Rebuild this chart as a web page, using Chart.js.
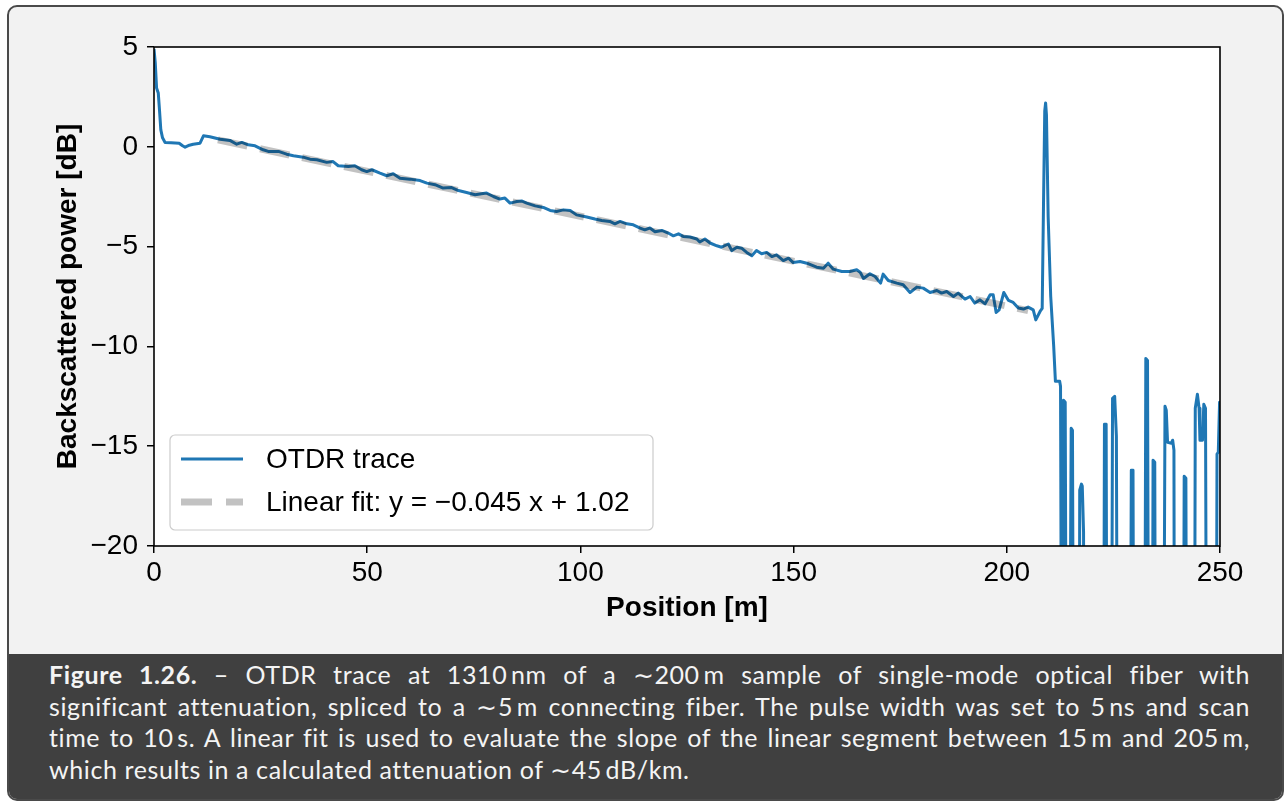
<!DOCTYPE html>
<html>
<head>
<meta charset="utf-8">
<title>OTDR trace</title>
<script src="https://cdn.jsdelivr.net/npm/chart.js@4.4.1/dist/chart.umd.min.js"></script>
<style>
  html, body { margin: 0; padding: 0; background: #fff; }
  body { width: 1287px; height: 803px; position: relative; overflow: hidden; }
  #frame {
    position: absolute; left: 7px; top: 5px; width: 1277px; height: 796px;
    box-sizing: border-box; border: 2px solid #4a4a4a; border-radius: 10px;
    background: #f2f2f2; overflow: hidden;
  }
  #caption {
    position: absolute; left: 0; right: 0; top: 647px; bottom: 0;
    background: #404040; color: #f4f4f4;
    font-family: Lato, "Noto Sans", sans-serif; font-size: 25px; line-height: 31.7px;
    letter-spacing: 0.6px;
    padding: 5px 32px 0 40px;
  }
  #caption .j { text-align: justify; text-align-last: justify; }
  #caption b { font-weight: 700; }
  #otdr { position: absolute; left: 0; top: 0; }
</style>
</head>
<body>
<div id="frame">
  <div id="caption">
    <div class="j"><b>Figure 1.26.</b> – OTDR trace at 1310&#8201;nm of a ∼200&#8201;m sample of single-mode optical fiber with</div>
    <div class="j">significant attenuation, spliced to a ∼5&#8201;m connecting fiber. The pulse width was set to 5&#8201;ns and scan</div>
    <div class="j">time to 10&#8201;s. A linear fit is used to evaluate the slope of the linear segment between 15&#8201;m and 205&#8201;m,</div>
    <div>which results in a calculated attenuation of ∼45&#8201;dB/km.</div>
  </div>
</div>
<canvas id="otdr" width="1287" height="654"></canvas>
<script>
// position along the fiber [m]
const traceX = [
  0, 0.3, 0.6, 1.0, 1.3, 1.6, 2.0, 2.6, 4.0, 5.9, 6.7, 7.3, 8.3, 9.2, 10.8, 11.6, 13.1,
  15.5, 17.8, 19.4, 20.6, 22.1, 23.7, 25.6, 26.8, 29.2, 31.1, 32.7, 35.0, 36.6, 38.2,
  40.5, 42.0, 43.2, 45.6, 47.1, 48.7, 49.9, 51.1, 53.0, 54.6, 56.1, 57.7, 60.0, 62.4,
  64.0, 65.9, 67.8, 69.8, 71.4, 73.3, 75.3, 76.8, 78.0, 79.6, 81.1, 82.3, 83.5, 85.1,
  86.2, 87.4, 89.4, 91.3, 92.9, 94.4, 96.0, 97.6, 99.1, 101.5, 103.4, 105.0, 106.9,
  108.1, 109.3, 110.9, 112.4, 114.0, 115.1, 116.3, 117.5, 119.1, 120.6, 121.8, 123.0,
  124.1, 125.7, 127.3, 128.0, 129.2, 130.4, 132.0, 133.1, 134.7, 135.5, 136.7, 137.8,
  139.0, 140.2, 141.3, 142.5, 143.7, 144.9, 146.0, 147.6, 148.8, 149.9, 151.5, 153.1,
  155.4, 157.0, 158.1, 159.3, 161.3, 163.2, 164.8, 165.6, 166.4, 167.9, 169.1, 170.4,
  171.0, 172.2, 174.2, 175.7, 177.3, 178.9, 180.4, 182.0, 183.6, 184.7, 185.9, 187.5,
  188.6, 190.2, 191.4, 192.5, 193.7, 194.9, 196.1, 196.8, 197.5, 198.2, 199.3, 200.4,
  201.5, 202.7, 203.9, 205.0, 206.2, 206.8, 207.8, 208.3,
  // reflection at the fiber end
  208.6, 208.9, 209.1, 209.3, 209.7, 210.3, 211.0, 211.4, 212.4, 212.6,
  // noise floor
  213.0, 213.3, 213.7, 214.1, 214.5, 215.1, 215.4, 215.8,
  216.9, 217.1, 217.5, 217.7, 218.0, 218.2,
  222.6, 222.9, 223.3, 223.6,
  224.4, 224.8, 225.3, 225.7, 226.1,
  228.8, 229.2, 229.6, 229.9,
  232.2, 232.6, 233.0, 233.4,
  234.0, 234.3, 234.7, 235.0,
  236.6, 237.1, 237.4, 237.7, 238.6, 238.9, 239.2, 239.4,
  241.3, 241.6, 242.0, 242.3,
  243.9, 244.2, 244.7, 245.1, 245.3, 245.9, 246.2, 246.6, 247.0,
  249.0, 249.3, 249.6, 249.9, 250.0
];

// backscattered power [dB]
const traceY = [
  4.9, 4.2, 2.95, 2.7, 1.8, 0.85, 0.45, 0.22, 0.2, 0.18, 0.05, -0.02, 0.08, 0.13, 0.18, 0.55, 0.5,
  0.38, 0.32, 0.13, 0.22, 0.1, 0.05, -0.15, -0.23, -0.23, -0.37, -0.45, -0.52, -0.62, -0.65,
  -0.78, -0.74, -0.95, -0.99, -0.95, -1.15, -1.24, -1.15, -1.32, -1.45, -1.35, -1.57, -1.62, -1.69,
  -1.82, -1.9, -2.07, -2.04, -2.19, -2.29, -2.4, -2.35, -2.32, -2.49, -2.62, -2.57, -2.82, -2.74,
  -2.71, -2.82, -2.96, -3.04, -3.19, -3.24, -3.16, -3.19, -3.41, -3.52, -3.62, -3.69, -3.74,
  -3.86, -3.74, -3.86, -3.91, -4.07, -4.16, -4.07, -4.26, -4.19, -4.32, -4.46, -4.36,
  -4.49, -4.52, -4.62, -4.77, -4.62, -4.82, -4.96, -5.03, -4.87, -5.2, -5.03, -5.08,
  -5.29, -5.46, -5.2, -5.36, -5.29, -5.5, -5.41, -5.7, -5.58, -5.8, -5.75, -5.83,
  -6.03, -6.08, -5.83, -6.13, -6.25, -6.25, -6.16, -6.28, -6.6, -6.36, -6.5, -6.83,
  -6.38, -6.7, -6.83, -6.91, -7.3, -7.03, -7.08, -7.3, -7.2, -7.33, -7.25, -7.5,
  -7.33, -7.63, -7.5, -7.83, -7.67, -7.87, -7.41, -7.41, -8.3, -8.17, -7.3, -7.7,
  -7.8, -8.08, -8.13, -8.03, -8.17, -8.67, -8.25, -8.1,
  -3.0, 1.8, 2.2, 1.6, -3.5, -7.5, -10.0, -11.75, -11.75, -12.0,
  -40, -12.7, -12.8, -40, -40, -14.1, -14.2, -40,
  -40, -17.2, -16.9, -17.0, -19.3, -40,
  -40, -13.9, -13.9, -40,
  -40, -12.6, -12.5, -14.5, -40,
  -40, -16.2, -16.2, -40,
  -40, -10.6, -10.7, -40,
  -40, -15.7, -15.8, -40,
  -40, -13.0, -13.2, -14.8, -14.85, -14.7, -15.2, -40,
  -40, -16.5, -16.6, -40,
  -40, -13.1, -12.4, -13.1, -14.7, -14.7, -12.9, -13.1, -40,
  -40, -15.4, -15.3, -12.8, -12.8
];

// linear fit y = -0.045 x + 1.02 over 15 m .. 205 m
const fitX = [15, 205];
const fitY = [0.345, -8.205];

const xTicks = [0, 50, 100, 150, 200, 250];
const yTicks = [5, 0, -5, -10, -15, -20];

const FONT = '"Liberation Sans", Arial, sans-serif';
Chart.defaults.font.family = FONT;
Chart.defaults.color = '#000';

const minus = v => (v < 0 ? '\u2212' + Math.abs(v) : String(v));

const plotBackground = {
  id: 'plotBackground',
  beforeDraw(chart) {
    const { ctx, chartArea: a } = chart;
    ctx.save();
    ctx.fillStyle = '#fff';
    ctx.fillRect(a.left, a.top, a.right - a.left, a.bottom - a.top);
    ctx.restore();
  }
};

const axesFrame = {
  id: 'axesFrame',
  afterDatasetsDraw(chart) {
    const { ctx, chartArea: a } = chart;
    ctx.save();
    ctx.strokeStyle = '#000';
    ctx.lineWidth = 1.6;
    ctx.strokeRect(a.left, a.top, a.right - a.left, a.bottom - a.top);
    ctx.restore();
  }
};

// legend box in the lower left corner of the axes
const innerLegend = {
  id: 'innerLegend',
  afterDraw(chart) {
    const { ctx, chartArea: a } = chart;
    const x = a.left + 16, y = a.bottom - 111, w = 483, h = 95, r = 5;
    ctx.save();
    ctx.beginPath();
    ctx.roundRect(x, y, w, h, r);
    ctx.fillStyle = 'rgba(255,255,255,0.8)';
    ctx.fill();
    ctx.strokeStyle = '#cccccc';
    ctx.lineWidth = 1.2;
    ctx.stroke();

    const rows = [
      { label: 'OTDR trace', color: '#1f77b4', width: 3, dash: [] },
      { label: 'Linear fit: y = \u22120.045 x + 1.02', color: 'rgba(0,0,0,0.24)', width: 7, dash: [31, 14] }
    ];
    rows.forEach((row, i) => {
      const cy = y + 24 + i * 43;
      ctx.beginPath();
      ctx.setLineDash(row.dash);
      ctx.lineCap = 'butt';
      ctx.strokeStyle = row.color;
      ctx.lineWidth = row.width;
      ctx.moveTo(x + 11, cy);
      ctx.lineTo(x + 73, cy);
      ctx.stroke();
      ctx.setLineDash([]);
      ctx.fillStyle = '#000';
      ctx.font = '28px ' + FONT;
      ctx.textBaseline = 'middle';
      ctx.fillText(row.label, x + 96, cy + 1);
    });
    ctx.restore();
  }
};

new Chart(document.getElementById('otdr'), {
  type: 'line',
  data: {
    datasets: [
      {
        label: 'OTDR trace',
        data: traceX.map((x, i) => ({ x, y: traceY[i] })),
        borderColor: '#1f77b4',
        borderWidth: 3,
        borderJoinStyle: 'round',
        pointRadius: 0,
        tension: 0,
        fill: false,
        order: 1
      },
      {
        label: 'Linear fit: y = \u22120.045 x + 1.02',
        data: fitX.map((x, i) => ({ x, y: fitY[i] })),
        borderColor: 'rgba(0,0,0,0.24)',
        borderWidth: 7,
        borderDash: [30, 13],
        borderCapStyle: 'butt',
        pointRadius: 0,
        fill: false,
        order: 0
      }
    ]
  },
  options: {
    responsive: false,
    animation: false,
    events: [],
    layout: { padding: { left: 51, top: 47, right: 67, bottom: 29 } },
    plugins: {
      legend: { display: false },
      tooltip: { enabled: false }
    },
    scales: {
      x: {
        type: 'linear',
        position: 'bottom',
        min: 0,
        max: 250,
        afterBuildTicks: s => { s.ticks = xTicks.map(v => ({ value: v })); },
        afterFit: s => { s.height = 79; },
        grid: { drawOnChartArea: false, drawTicks: true, tickLength: 7, color: '#000', lineWidth: 1.5 },
        border: { display: false },
        ticks: { font: { size: 28 }, color: '#000', padding: 3, maxRotation: 0, autoSkip: false, callback: minus },
        title: { display: true, text: 'Position [m]', color: '#000', font: { size: 28, weight: 'bold' }, padding: { top: 0, bottom: 0 } }
      },
      y: {
        type: 'linear',
        min: -20,
        max: 5,
        afterBuildTicks: s => { s.ticks = yTicks.map(v => ({ value: v })); },
        afterFit: s => { s.width = 103; },
        grid: { drawOnChartArea: false, drawTicks: true, tickLength: 7, color: '#000', lineWidth: 1.5 },
        border: { display: false },
        ticks: { font: { size: 28 }, color: '#000', padding: 9, autoSkip: false, callback: minus },
        title: { display: true, text: 'Backscattered power [dB]', color: '#000', font: { size: 28, weight: 'bold' }, padding: { top: 0, bottom: 0 } }
      }
    }
  },
  plugins: [plotBackground, axesFrame, innerLegend]
});
</script>
</body>
</html>
